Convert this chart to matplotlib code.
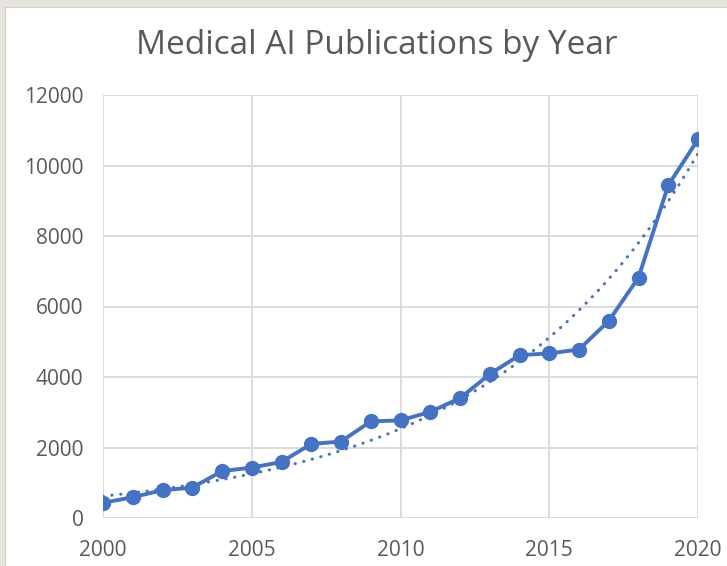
import numpy as np
import matplotlib
matplotlib.use("Agg")
import matplotlib.pyplot as plt
from matplotlib.patches import Rectangle

years = list(range(2000, 2021))
publications = [430, 590, 790, 860, 1330, 1430, 1590, 2100, 2170, 2740, 2770,
                3010, 3400, 4080, 4620, 4670, 4780, 5590, 6820, 9440, 10740]
title = "Medical AI Publications by Year"
x_ticks = [2000, 2005, 2010, 2015, 2020]
y_ticks = [0, 2000, 4000, 6000, 8000, 10000, 12000]

blue = "#4472C4"
grid = "#D9D9D9"
text_c = "#595959"
font = "Open Sans"

fig = plt.figure(figsize=(7.27, 5.66), dpi=100)
fig.patch.set_facecolor("#E7E4DD")
fig.patches.append(Rectangle((5 / 727, 0), 1, 1 - 7 / 566, transform=fig.transFigure,
                             facecolor="white", edgecolor="#D0D0D0", linewidth=0.8, zorder=-5))

ax = fig.add_axes([103 / 727, 1 - 518 / 566, 595 / 727, 423 / 566])
ax.set_facecolor("white")
ax.set_zorder(2)

# Exponential trendline (least squares on log values, like Excel)
x = np.array(years, dtype=float)
yv = np.array(publications, dtype=float)
b, lna = np.polyfit(x - x[0], np.log(yv), 1)
xs = np.linspace(x[0], x[-1], 300)
ax.plot(xs, np.exp(lna) * np.exp(b * (xs - x[0])), color=blue, linewidth=2.2,
        linestyle=(0, (0.1, 2.8)), dash_capstyle="round", zorder=2)

ax.plot(years, publications, color=blue, linewidth=2.8, marker="o", markersize=10,
        zorder=3, solid_joinstyle="round")

ax.set_xlim(2000, 2020)
ax.set_ylim(0, 12000)
ax.set_xticks(x_ticks)
ax.set_yticks(y_ticks)
ax.grid(True, color=grid, linewidth=1.3)
ax.set_axisbelow(True)
for s in ax.spines.values():
    s.set_visible(False)
ax.tick_params(axis="y", length=0, labelsize=15, labelcolor=text_c, pad=14)
ax.tick_params(axis="x", length=0, labelsize=15, labelcolor=text_c, pad=16)
for lab in ax.get_xticklabels() + ax.get_yticklabels():
    lab.set_fontfamily(font)

fig.text(377 / 727, 1 - 45 / 566, title, ha="center", va="center", fontsize=24,
         color=text_c, fontfamily=font)

fig.savefig("out.png", dpi=100, facecolor=fig.get_facecolor())
